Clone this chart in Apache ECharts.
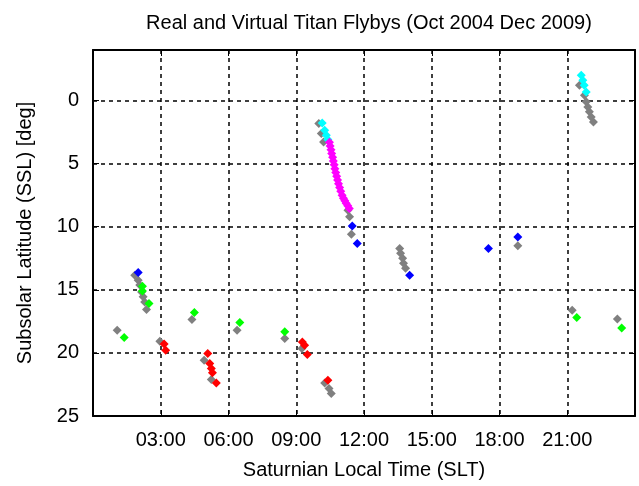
<!DOCTYPE html>
<html><head><meta charset="utf-8">
<script src="https://cdn.jsdelivr.net/npm/echarts@6/dist/echarts.min.js"></script>
<style>html,body{margin:0;padding:0;background:#fff}#c{width:639px;height:486px}</style>
</head><body><div id="c"></div>
<script>
const titleText = 'Real and Virtual Titan Flybys (Oct 2004 Dec 2009)';
const xName = 'Saturnian Local Time (SLT)';
const yName = 'Subsolar Latitude (SSL) [deg]';
const xTickHours = [0, 3, 6, 9, 12, 15, 18, 21, 24];
const yTickValues = [0, 5, 10, 15, 20, 25];

const grayPts = [
  [1.07,18.2],[1.85,13.84],[2.00,14.24],[2.07,14.63],[2.15,15.17],[2.22,15.56],[2.29,15.96],[2.37,16.56],
  [2.96,19.07],[4.38,17.35],[4.92,20.58],[5.24,22.11],[6.38,18.20],[8.49,18.86],[9.25,19.65],
  [10.26,22.38],[10.45,22.82],[10.55,23.22],[10.00,1.82],[10.11,2.61],[10.21,3.28],
  [11.29,8.69],[11.36,9.22],[11.44,10.59],
  [13.58,11.73],[13.62,12.10],[13.71,12.50],[13.75,12.89],[13.84,13.29],
  [18.81,11.52],[21.22,16.62],[23.22,17.31],
  [21.54,-1.21],[21.76,-0.42],[21.84,0.11],[21.91,0.51],[21.98,0.90],[22.06,1.30],[22.16,1.70]
];
const greenPts = [
  [1.38,18.78],[2.19,14.72],[2.19,15.09],[2.48,16.09],[4.49,16.80],[6.50,17.59],[8.49,18.32],
  [21.42,17.19],[23.41,18.02]
];
const bluePts = [
  [2.00,13.63],[11.48,9.94],[11.70,11.33],[14.02,13.84],[17.51,11.73],[18.81,10.81]
];
const redPts = [
  [3.15,19.3],[3.22,19.8],[5.08,20.05],[5.17,20.84],[5.24,21.24],[5.29,21.58],[5.46,22.38],
  [9.27,19.13],[9.37,19.39],[9.49,20.13],[10.40,22.16]
];
const cyanPts = [
  [10.15,1.78],[10.26,2.35],[10.33,2.75],[10.40,3.09],
  [21.62,-2.0],[21.69,-1.61],[21.75,-1.2],[21.84,-0.68]
];
const magentaPts = [
  [10.47,3.3],[10.50,3.6],[10.54,3.9],[10.57,4.2],[10.61,4.5],[10.64,4.8],[10.68,5.1],[10.71,5.4],
  [10.75,5.7],[10.79,6.0],[10.83,6.3],[10.87,6.6],[10.92,6.9],[10.97,7.2],[11.03,7.5],[11.09,7.75],
  [11.15,7.95],[11.21,8.15],[11.28,8.35],[11.35,8.55]
];

const FONT = 'Liberation Sans';
const FS = 20;
function pad(h){ return (h < 10 ? '0' : '') + h + ':00'; }

const chart = echarts.init(document.getElementById('c'), null, {renderer:'canvas'});
function sc(name, data, color){
  return {type:'scatter', name, data, symbol:'diamond', symbolSize:9,
    itemStyle:{color, opacity:1}, xAxisIndex:0, yAxisIndex:0, silent:true, animation:false};
}
const frameLine = {show:true, onZero:false, lineStyle:{color:'#000', width:2}};
chart.setOption({
  animation:false,
  backgroundColor:'#fff',
  title:{text:titleText, left:364, top:8, textAlign:'center',
    textStyle:{fontFamily:FONT, fontSize:FS, fontWeight:'normal', color:'#000'}},
  grid:{left:93, right:4, top:50, bottom:70, containLabel:false},
  xAxis:[{
    type:'value', min:0, max:24, interval:3, position:'bottom',
    name:xName, nameLocation:'middle', nameGap:44,
    nameTextStyle:{fontFamily:FONT, fontSize:FS, color:'#000'},
    axisLine:frameLine,
    axisTick:{show:true, inside:true, length:6, lineStyle:{color:'#000', width:1}},
    axisLabel:{fontFamily:FONT, fontSize:FS, color:'#000', margin:14,
      formatter:v => (v===0||v===24) ? '' : pad(v)},
    splitLine:{show:true, lineStyle:{color:'#000', width:1.5, type:[4,4]}}
  },{
    type:'value', min:0, max:24, interval:3, position:'top',
    axisLine:frameLine, axisTick:{show:true, inside:true, length:6, lineStyle:{color:'#000'}},
    axisLabel:{show:false}, splitLine:{show:false}
  }],
  yAxis:[{
    type:'value', min:-4, max:25, inverse:true, position:'left',
    name:yName, nameLocation:'middle', nameGap:58, nameRotate:90,
    nameTextStyle:{fontFamily:FONT, fontSize:FS, color:'#000'},
    axisLine:frameLine,
    axisTick:{show:true, inside:true, length:6, customValues:yTickValues, lineStyle:{color:'#000'}},
    axisLabel:{fontFamily:FONT, fontSize:FS, color:'#000', margin:14, customValues:yTickValues},
    splitLine:{show:true, lineStyle:{color:'#000', width:1.5, type:[4,4]}}
  },{
    type:'value', min:-4, max:25, inverse:true, position:'right',
    axisLine:frameLine,
    axisTick:{show:true, inside:true, length:6, customValues:yTickValues, lineStyle:{color:'#000'}},
    axisLabel:{show:false}, splitLine:{show:false}
  }],
  series:[
    sc('gray', grayPts, '#808080'),
    sc('green', greenPts, '#00ff00'),
    sc('blue', bluePts, '#0000ff'),
    sc('red', redPts, '#ff0000'),
    sc('cyan', cyanPts, '#00ffff'),
    sc('magenta', magentaPts, '#ff00ff')
  ]
});
</script>
</body></html>
